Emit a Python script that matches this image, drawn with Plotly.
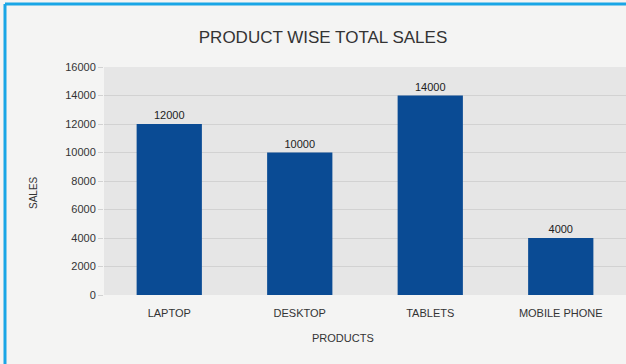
import plotly.graph_objects as go

products = ["LAPTOP", "DESKTOP", "TABLETS", "MOBILE PHONE"]
sales = [12000, 10000, 14000, 4000]
y_ticks = [0, 2000, 4000, 6000, 8000, 10000, 12000, 14000, 16000]

fig = go.Figure(go.Bar(
    x=products, y=sales, width=0.5,
    marker=dict(color="#0a4b94", line=dict(width=0)),
    text=[str(v) for v in sales], textposition="outside",
    textfont=dict(family="Liberation Sans", size=11, color="#222222"),
    cliponaxis=False,
))

fig.update_layout(
    width=626, height=364,
    margin=dict(l=104, r=0, t=67, b=69),
    paper_bgcolor="#f4f4f3",
    plot_bgcolor="#e6e6e6",
    font=dict(family="Liberation Sans", size=11, color="#333333"),
    showlegend=False,
    bargap=0.5,
    title=dict(text="PRODUCT WISE TOTAL SALES", x=323/626, xanchor="center",
               y=1 - 37/364, yanchor="middle",
               font=dict(family="Liberation Sans", size=17, color="#333333")),
    xaxis=dict(showgrid=False, tickfont=dict(size=11, color="#333333"),
               showline=False, ticks="", ticklabelstandoff=10),
    yaxis=dict(range=[0, 16000], tickvals=y_ticks, ticktext=[str(v) for v in y_ticks],
               showgrid=True,
               gridcolor="#d2d2d2", gridwidth=1, zeroline=False,
               ticks="outside", ticklen=5, tickcolor="#d2d2d2",
               tickfont=dict(size=11, color="#333333"), showline=False),
    annotations=[
        dict(text="PRODUCTS", xref="paper", yref="paper",
             x=(343 - 104) / 522, y=-(338 - 295) / 228, xanchor="center", yanchor="middle",
             showarrow=False, font=dict(size=11, color="#333333")),
        dict(text="SALES", xref="paper", yref="paper",
             x=(33 - 104) / 522, y=(295 - 193) / 228, xanchor="center", yanchor="middle",
             textangle=-90, showarrow=False, font=dict(size=10, color="#333333")),
    ],
    shapes=[
        dict(type="line", xref="paper", yref="paper",
             x0=(5 - 104) / 522, x1=(640 - 104) / 522,
             y0=(295 - 4) / 228, y1=(295 - 4) / 228,
             line=dict(color="#1aa6e6", width=3)),
        dict(type="line", xref="paper", yref="paper",
             x0=(5 - 104) / 522, x1=(5 - 104) / 522,
             y0=(295 - 4) / 228, y1=-(380 - 295) / 228,
             line=dict(color="#1aa6e6", width=3)),
    ],
)

fig.write_html("out.html")
